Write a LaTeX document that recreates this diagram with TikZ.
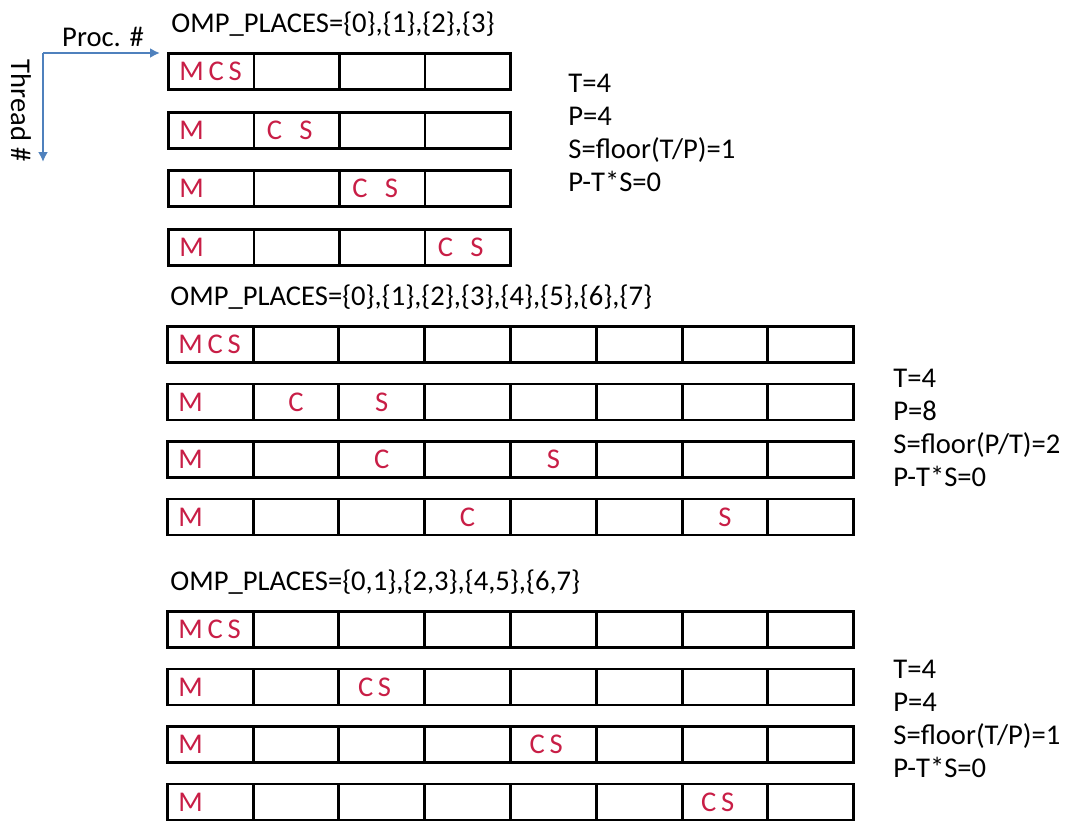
\documentclass[tikz,border=0pt]{standalone}
\usepackage{fontspec}
\setmainfont{Carlito}
\usetikzlibrary{arrows.meta,positioning}
\definecolor{axisblue}{RGB}{79,129,189}
\definecolor{markred}{RGB}{200,30,70}

\begin{document}
\begin{tikzpicture}[
    x=0.5pt, y=-0.5pt,
    every node/.style={font=\fontsize{14.3}{16.5}\selectfont, inner sep=0pt},
    cell/.style={draw, line width=1.4pt, minimum width=42.75pt, minimum height=18pt, anchor=north west},
    tag/.style={text=markred, anchor=west},
    title/.style={anchor=west},
    params/.style={align=left, anchor=west},
    axis/.style={-{Latex[length=5pt,width=5pt]}, draw=axisblue, line width=1pt},
]
    \useasboundingbox (0,0) rectangle (1070,820);

    % Axes
    \coordinate (corner) at (43,53);
    \coordinate (procend) at (160,53);
    \coordinate (threadend) at (43,162);
    \draw[axis] (corner) -- (procend);
    \draw[axis] (corner) -- (threadend);
    \node (proc) at (103,37) {Proc. \#};
    \node[rotate=-90] (thread) at (21,111) {Thread \#};

    % Block 1: four places, one proc each
    \foreach \rw in {0,...,3}
        \foreach \cl in {0,...,3}
            \node[cell] (p1-\rw-\cl) at ({167+85.5*\cl},{52+58.7*\rw}) {};
    \node[title] (omp1) at ([xshift=2pt, yshift=14pt]p1-0-0.north west) {OMP\_PLACES=\{0\},\{1\},\{2\},\{3\}};
    \node[tag, right=6pt of p1-0-0.west] (t1-0) {M\,C\,S};
    \foreach \rw in {1,2,3} {
        \node[tag, right=6pt of p1-\rw-0.west] (m1-\rw) {M};
        \node[tag, right=7pt of p1-\rw-\rw.west] (cs1-\rw) {C\hspace{.6em}S};
    }
    \node[params] (par1) at (568,133) {T=4\\P=4\\S=floor(T/P)=1\\P-T*S=0};

    % Block 2: eight places, spread
    \foreach \rw in {0,...,3}
        \foreach \cl in {0,...,7}
            \node[cell] (p2-\rw-\cl) at ({166+85.8*\cl},{325+57.5*\rw}) {};
    \node[title] (omp2) at ([xshift=2pt, yshift=14pt]p2-0-0.north west) {OMP\_PLACES=\{0\},\{1\},\{2\},\{3\},\{4\},\{5\},\{6\},\{7\}};
    \node[tag, right=6pt of p2-0-0.west] (t2-0) {M\,C\,S};
    \foreach \rw in {1,2,3} {
        \pgfmathtruncatemacro\sp{2*\rw}
        \node[tag, right=6pt of p2-\rw-0.west] (m2-\rw) {M};
        \node[tag, anchor=center] (c2-\rw) at (p2-\rw-\rw) {C};
        \node[tag, anchor=center] (s2-\rw) at (p2-\rw-\sp) {S};
    }
    \node[params] (par2) at (893,428) {T=4\\P=8\\S=floor(P/T)=2\\P-T*S=0};

    % Block 3: four places of two procs
    \foreach \rw in {0,...,3}
        \foreach \cl in {0,...,7}
            \node[cell] (p3-\rw-\cl) at ({166+85.8*\cl},{610+57.5*\rw}) {};
    \node[title] (omp3) at ([xshift=2pt, yshift=14pt]p3-0-0.north west) {OMP\_PLACES=\{0,1\},\{2,3\},\{4,5\},\{6,7\}};
    \node[tag, right=6pt of p3-0-0.west] (t3-0) {M\,C\,S};
    \foreach \rw in {1,2,3} {
        \pgfmathtruncatemacro\sp{2*\rw}
        \node[tag, right=6pt of p3-\rw-0.west] (m3-\rw) {M};
        \node[tag, right=10pt of p3-\rw-\sp.west] (cs3-\rw) {C\,S};
    }
    \node[params] (par3) at (893,719) {T=4\\P=4\\S=floor(T/P)=1\\P-T*S=0};
\end{tikzpicture}
\end{document}
